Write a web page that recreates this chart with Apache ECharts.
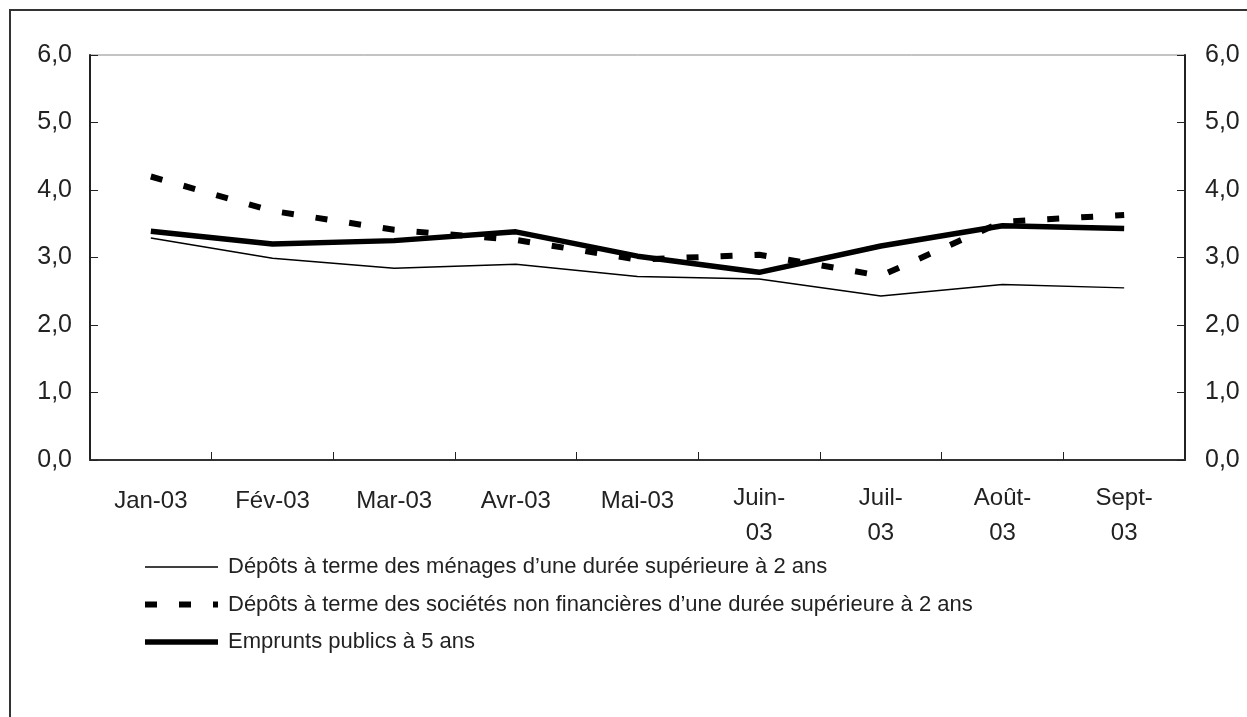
<!DOCTYPE html>
<html>
<head>
<meta charset="utf-8">
<script src="https://cdn.jsdelivr.net/npm/echarts@6/dist/echarts.min.js"></script>
<style>
  html, body { margin: 0; padding: 0; background: #fff; }
  #chart { width: 1247px; height: 717px; }
</style>
</head>
<body>
<div id="chart"></div>
<script>
// catégories (mois)
const months = ['Jan-03', 'Fév-03', 'Mar-03', 'Avr-03', 'Mai-03', 'Juin-\n03', 'Juil-\n03', 'Août-\n03', 'Sept-\n03'];
// séries
const menages = [3.29, 2.99, 2.84, 2.90, 2.72, 2.68, 2.43, 2.60, 2.55];
const societes = [4.20, 3.69, 3.41, 3.26, 2.97, 3.04, 2.73, 3.53, 3.63];
const emprunts = [3.39, 3.20, 3.25, 3.38, 3.02, 2.78, 3.17, 3.47, 3.43];
const seriesNames = [
  'Dépôts à terme des ménages d\u2019une durée supérieure à 2 ans',
  'Dépôts à terme des sociétés non financières d\u2019une durée supérieure à 2 ans',
  'Emprunts publics à 5 ans'
];
const yTicks = [0, 1, 2, 3, 4, 5, 6];

const chart = echarts.init(document.getElementById('chart'));

const fmt = v => v.toFixed(1).replace('.', ',');

const yAxisBase = {
  type: 'value',
  min: yTicks[0],
  max: yTicks[yTicks.length - 1],
  interval: 1,
  splitLine: { show: false },
  axisLine: { show: true, lineStyle: { color: '#222', width: 2 } },
  axisTick: { show: true, inside: true, length: 8, lineStyle: { color: '#222', width: 1 } },
  axisLabel: {
    formatter: fmt,
    color: '#222',
    fontFamily: 'Liberation Sans',
    fontSize: 25
  }
};

const dashStyle = { color: '#000', width: 6, type: [12, 22] };

const option = {
  animation: false,
  backgroundColor: '#fff',
  grid: {
    left: 90, right: 62, top: 55, bottom: 257,
    show: true, borderColor: '#888', borderWidth: 1
  },
  xAxis: {
    type: 'category',
    data: months,
    boundaryGap: true,
    axisLine: { lineStyle: { color: '#333', width: 2 } },
    axisTick: { show: true, inside: true, length: 8, lineStyle: { color: '#222', width: 1 } },
    axisLabel: {
      interval: 0,
      margin: 21,
      color: '#222',
      fontFamily: 'Liberation Sans',
      fontSize: 24,
      lineHeight: 35,
      formatter: v => v.indexOf('\n') < 0 ? '{one|' + v + '}' : v,
      rich: {
        one: {
          fontFamily: 'Liberation Sans',
          fontSize: 24, lineHeight: 35, color: '#222', padding: [6, 0, 0, 0]
        }
      }
    }
  },
  yAxis: [
    Object.assign({}, yAxisBase, { position: 'left', axisLabel: Object.assign({}, yAxisBase.axisLabel, { margin: 18 }) }),
    Object.assign({}, yAxisBase, { position: 'right', axisLabel: Object.assign({}, yAxisBase.axisLabel, { margin: 20 }) })
  ],
  legend: {
    orient: 'vertical',
    left: 137,
    top: 550,
    itemWidth: 73,
    itemHeight: 14,
    itemGap: 13.5,
    data: [
      { name: seriesNames[0], itemStyle: { opacity: 0 }, lineStyle: { color: '#000', width: 1.5 } },
      { name: seriesNames[1], itemStyle: { opacity: 0 }, lineStyle: dashStyle },
      { name: seriesNames[2], itemStyle: { opacity: 0 }, lineStyle: { color: '#000', width: 5.5 } }
    ],
    textStyle: {
      fontFamily: 'Liberation Sans',
      fontSize: 22,
      lineHeight: 24,
      color: '#222',
      padding: [0, 0, 0, 5]
    }
  },
  graphic: [
    {
      type: 'rect', z: 100, silent: true,
      shape: { x: 690, y: 541, width: 380, height: 10 },
      style: { fill: '#fff' }
    },
    {
      type: 'rect', z: 100, silent: true,
      shape: { x: 10, y: 10, width: 1400, height: 900 },
      style: { fill: 'none', stroke: '#333', lineWidth: 2 }
    }
  ],
  series: [
    {
      name: seriesNames[0], type: 'line', data: menages,
      symbol: 'none', lineStyle: { color: '#000', width: 1.5 }, itemStyle: { color: '#000' }
    },
    {
      name: seriesNames[1], type: 'line', data: societes,
      symbol: 'none', lineStyle: dashStyle, itemStyle: { color: '#000' }
    },
    {
      name: seriesNames[2], type: 'line', data: emprunts,
      symbol: 'none', lineStyle: { color: '#000', width: 5.5 }, itemStyle: { color: '#000' }
    }
  ]
};

chart.setOption(option);
</script>
</body>
</html>
